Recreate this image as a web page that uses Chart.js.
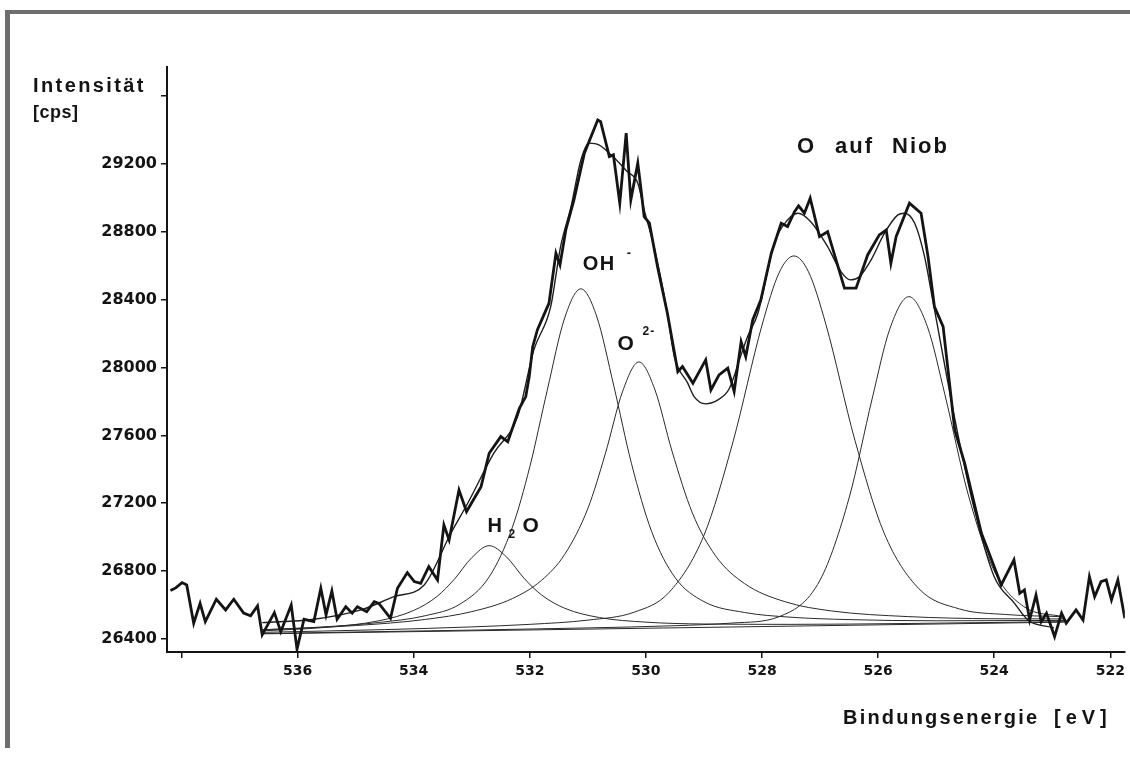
<!DOCTYPE html>
<html>
<head>
<meta charset="utf-8">
<title>O auf Niob</title>
<script src="https://cdn.jsdelivr.net/npm/chart.js@4.4.1/dist/chart.umd.min.js"></script>
<style>
  html, body { margin: 0; padding: 0; background: #fff; }
  #wrap { position: relative; width: 1130px; height: 760px; overflow: hidden; }
  #plot { position: absolute; left: 0; top: 0; }
  .frame-top { position: absolute; left: 8px; right: 0; top: 10px; height: 4px; background: #6e6e6e; }
  .frame-left { position: absolute; left: 5px; top: 10px; bottom: 12px; width: 5px; background: #6e6e6e; }
</style>
</head>
<body>
<div id="wrap">
  <canvas id="plot" width="1130" height="760"></canvas>
  <div class="frame-top"></div>
  <div class="frame-left"></div>
</div>
<script>
// measured spectrum (binding energy in eV, intensity in cps)
const rawEnergy = [538.19, 538.10, 537.99, 537.91, 537.79, 537.68, 537.59, 537.40, 537.24, 537.10,
  536.93, 536.81, 536.69, 536.61, 536.40, 536.29, 536.11, 536.01, 535.89, 535.72,
  535.60, 535.51, 535.41, 535.32, 535.17, 535.06, 534.97, 534.81, 534.68, 534.60,
  534.40, 534.28, 534.11, 533.99, 533.88, 533.74, 533.59, 533.48, 533.39, 533.22,
  533.09, 532.84, 532.70, 532.50, 532.38, 532.18, 532.07, 532.01, 531.95, 531.87,
  531.72, 531.67, 531.55, 531.48, 531.38, 531.24, 531.06, 530.83, 530.78, 530.63,
  530.56, 530.45, 530.34, 530.26, 530.14, 530.09, 530.03, 529.94, 529.80, 529.63,
  529.45, 529.37, 529.19, 528.97, 528.88, 528.74, 528.59, 528.48, 528.36, 528.28,
  528.16, 528.02, 527.84, 527.67, 527.56, 527.44, 527.37, 527.27, 527.17, 527.01,
  526.87, 526.58, 526.38, 526.18, 525.98, 525.86, 525.78, 525.69, 525.46, 525.26,
  525.14, 525.03, 524.88, 524.68, 524.51, 524.40, 524.22, 523.88, 523.66, 523.56,
  523.48, 523.39, 523.28, 523.19, 523.10, 522.96, 522.84, 522.76, 522.59, 522.47,
  522.36, 522.27, 522.16, 522.07, 521.98, 521.87, 521.75];
const rawCounts = [26685, 26701, 26732, 26718, 26493, 26610, 26502, 26634, 26571, 26634,
  26552, 26536, 26595, 26424, 26555, 26443, 26600, 26339, 26516, 26502,
  26699, 26542, 26683, 26516, 26590, 26552, 26590, 26561, 26620, 26610,
  26522, 26699, 26791, 26738, 26728, 26826, 26748, 27072, 26984, 27278,
  27151, 27298, 27495, 27593, 27563, 27760, 27829, 27947, 28123, 28222,
  28340, 28379, 28674, 28605, 28811, 28988, 29264, 29460, 29450, 29244,
  29254, 28969, 29382, 28988, 29205, 29067, 28890, 28851, 28595, 28320,
  27976, 28006, 27908, 28045, 27868, 27957, 27996, 27858, 28153, 28064,
  28281, 28399, 28674, 28851, 28831, 28919, 28953, 28910, 28998, 28772,
  28801, 28468, 28468, 28664, 28782, 28811, 28615, 28772, 28969, 28910,
  28654, 28359, 28241, 27632, 27436, 27278, 27023, 26718, 26866, 26669,
  26689, 26512, 26659, 26502, 26552, 26414, 26552, 26493, 26571, 26512,
  26767, 26649, 26738, 26748, 26630, 26748, 26522];

// sum of the fitted components
const fitEnergy = [536.61, 535.72, 534.91, 534.34, 533.82, 533.36, 533.07, 532.62, 532.21, 531.93,
  531.64, 531.47, 531.29, 531.12, 530.98, 530.81, 530.60, 530.32, 530.14, 530.03,
  529.86, 529.63, 529.51, 529.28, 529.17, 528.97, 528.76, 528.56, 528.39, 528.25,
  528.07, 527.79, 527.56, 527.38, 527.16, 526.87, 526.64, 526.48, 526.32, 526.12,
  525.89, 525.66, 525.55, 525.37, 525.20, 525.06, 524.63, 524.34, 524.00, 523.65,
  523.42, 522.97];
const fitCounts = [26496, 26516, 26571, 26649, 26718, 27023, 27200, 27495, 27711, 28104,
  28359, 28713, 28949, 29224, 29323, 29313, 29254, 29155, 29087, 28929,
  28713, 28320, 28064, 27908, 27829, 27786, 27809, 27878, 28045, 28182,
  28320, 28733, 28870, 28910, 28860, 28713, 28566, 28517, 28536, 28635,
  28792, 28900, 28910, 28851, 28654, 28399, 27613, 27161, 26767, 26610,
  26512, 26465];

// single components
const h2oEnergy = [536.6, 535.6, 534.6, 534.0, 533.6, 533.3, 533.0, 532.7, 532.4, 532.1, 531.8, 531.4, 530.8, 530.0, 529.0, 527.5, 525.5, 522.8];
const h2oCounts = [26448, 26466, 26507, 26568, 26650, 26752, 26879, 26950, 26883, 26758, 26660, 26581, 26526, 26499, 26488, 26486, 26491, 26502];

const ohEnergy = [536.6, 535.6, 534.6, 533.8, 533.2, 532.7, 532.3, 532.0, 531.7, 531.4, 531.12, 530.85, 530.55, 530.25, 529.9, 529.5, 529.0, 528.3, 527.5, 526.5, 525.0, 522.8];
const ohCounts = [26454, 26470, 26497, 26537, 26606, 26766, 27059, 27415, 27866, 28292, 28464, 28304, 27887, 27436, 27032, 26763, 26620, 26556, 26528, 26514, 26507, 26509];

const oxEnergy = [536.6, 535.0, 533.8, 533.0, 532.3, 531.8, 531.4, 531.0, 530.7, 530.4, 530.12, 529.85, 529.55, 529.2, 528.8, 528.3, 527.6, 526.8, 525.5, 524.0, 522.8];
const oxCounts = [26454, 26479, 26515, 26561, 26638, 26745, 26898, 27169, 27491, 27861, 28033, 27874, 27507, 27143, 26890, 26726, 26619, 26565, 26532, 26519, 26518];

const nb1Energy = [536.6, 534.5, 533.0, 532.0, 531.0, 530.2, 529.6, 529.0, 528.5, 528.0, 527.7, 527.45, 527.2, 526.9, 526.4, 525.9, 525.3, 524.6, 523.8, 522.8];
const nb1Counts = [26439, 26455, 26471, 26486, 26511, 26558, 26675, 27011, 27562, 28250, 28563, 28658, 28565, 28255, 27572, 27027, 26697, 26577, 26544, 26531];

const nb2Energy = [536.6, 533.0, 531.0, 529.5, 528.5, 527.7, 527.0, 526.5, 526.1, 525.8, 525.47, 525.15, 524.85, 524.45, 524.0, 523.5, 522.8];
const nb2Counts = [26432, 26452, 26465, 26478, 26494, 26532, 26747, 27231, 27820, 28226, 28418, 28240, 27841, 27254, 26801, 26593, 26530];

const baseEnergy = [536.6, 522.8];
const baseCounts = [26430, 26499];

// axes
const energyTicks = [538, 536, 534, 532, 530, 528, 526, 524, 522];
const energyLabels = ['', '536', '534', '532', '530', '528', '526', '524', '522'];
const countTicks = [26400, 26800, 27200, 27600, 28000, 28400, 28800, 29200, 29600];
const countLabels = ['26400', '26800', '27200', '27600', '28000', '28400', '28800', '29200', ''];

const ink = '#141414';

function pairs(xs, ys) {
  return xs.map((x, i) => ({ x: x, y: ys[i] }));
}

function thin(xs, ys) {
  return {
    data: pairs(xs, ys),
    borderColor: '#2a2a2a',
    borderWidth: 1,
    pointRadius: 0,
    cubicInterpolationMode: 'monotone'
  };
}

function text(ctx, str, x, y, size, spacing) {
  ctx.font = 'bold ' + size + 'px "Liberation Sans", Arial, sans-serif';
  ctx.letterSpacing = (spacing || 0) + 'px';
  ctx.fillText(str, x, y);
}

// titles and peak names
const labelPlugin = {
  id: 'labels',
  afterDraw(chart) {
    const ctx = chart.ctx;
    const sx = chart.scales.x, sy = chart.scales.y;
    ctx.save();
    ctx.fillStyle = ink;
    ctx.textAlign = 'left';
    ctx.textBaseline = 'alphabetic';

    text(ctx, 'Intensität', 33, 92, 20, 2.4);
    text(ctx, '[cps]', 33, 118, 18, 0.5);
    text(ctx, 'Bindungsenergie', 843, 724, 20, 2.2);
    text(ctx, '[eV]', 1054, 724, 20, 5);

    text(ctx, 'O', 797, 153, 22, 0);
    text(ctx, 'auf', 835, 153, 22, 2);
    text(ctx, 'Niob', 892, 153, 22, 2);

    let x = sx.getPixelForValue(531.09), y = sy.getPixelForValue(28576);
    text(ctx, 'OH', x, y, 20, 1.5);
    text(ctx, '-', x + 44, y - 13, 13, 0);

    x = sx.getPixelForValue(530.49); y = sy.getPixelForValue(28104);
    text(ctx, 'O', x, y, 21, 0);
    text(ctx, '2-', x + 25, y - 15, 12, 1);

    x = sx.getPixelForValue(532.73); y = sy.getPixelForValue(27033);
    text(ctx, 'H', x, y, 20, 0);
    text(ctx, '2', x + 21, y + 6, 12, 0);
    text(ctx, 'O', x + 35, y, 21, 0);

    ctx.restore();
  }
};

new Chart(document.getElementById('plot'), {
  type: 'line',
  data: {
    datasets: [
      {
        data: pairs(rawEnergy, rawCounts),
        borderColor: ink,
        borderWidth: 2.8,
        pointRadius: 0,
        tension: 0
      },
      {
        data: pairs(fitEnergy, fitCounts),
        borderColor: '#1e1e1e',
        borderWidth: 1.4,
        pointRadius: 0,
        cubicInterpolationMode: 'monotone'
      },
      thin(h2oEnergy, h2oCounts),
      thin(ohEnergy, ohCounts),
      thin(oxEnergy, oxCounts),
      thin(nb1Energy, nb1Counts),
      thin(nb2Energy, nb2Counts),
      thin(baseEnergy, baseCounts)
    ]
  },
  options: {
    responsive: false,
    animation: false,
    layout: { padding: { left: 0, top: 67, right: 5, bottom: 0 } },
    plugins: { legend: { display: false }, tooltip: { enabled: false } },
    scales: {
      x: {
        type: 'linear',
        reverse: true,
        min: 521.75,
        max: 538.25,
        afterBuildTicks: axis => { axis.ticks = energyTicks.map(v => ({ value: v })); },
        afterFit: axis => { axis.height = 108; },
        grid: { drawOnChartArea: false, drawTicks: true, tickLength: 6, color: ink, lineWidth: 1.5 },
        border: { display: true, color: ink, width: 2 },
        ticks: {
          color: ink,
          padding: 5,
          maxRotation: 0,
          autoSkip: false,
          font: { family: '"DejaVu Sans", sans-serif', size: 14, weight: 'bold' },
          callback: (v, i) => energyLabels[i]
        }
      },
      y: {
        type: 'linear',
        min: 26323,
        max: 29772,
        afterBuildTicks: axis => { axis.ticks = countTicks.map(v => ({ value: v })); },
        afterFit: axis => { axis.width = 167; },
        grid: { drawOnChartArea: false, drawTicks: true, tickLength: 6, color: ink, lineWidth: 1.5 },
        border: { display: true, color: ink, width: 2 },
        ticks: {
          color: ink,
          padding: 4,
          autoSkip: false,
          font: { family: '"DejaVu Sans", sans-serif', size: 16, weight: 'bold' },
          callback: (v, i) => countLabels[i]
        }
      }
    }
  },
  plugins: [labelPlugin]
});
</script>
</body>
</html>
